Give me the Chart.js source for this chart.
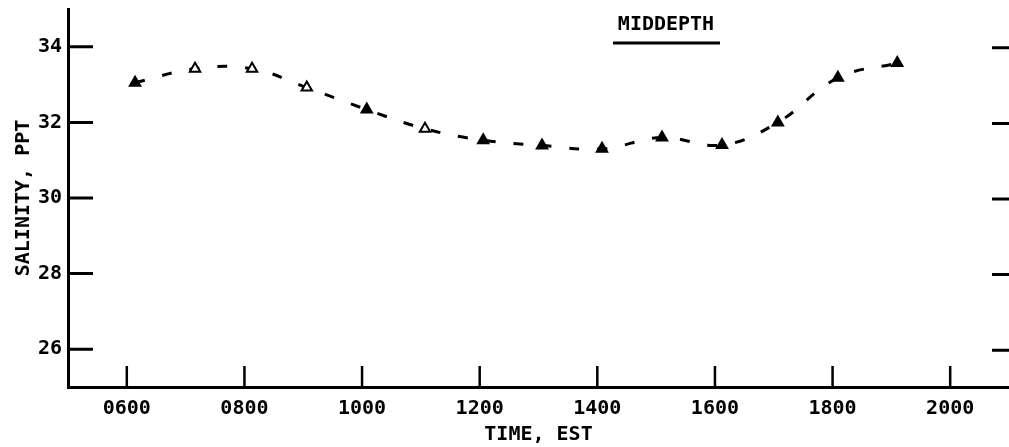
<!DOCTYPE html>
<html>
<head>
<meta charset="utf-8">
<script src="https://cdn.jsdelivr.net/npm/chart.js@4/dist/chart.umd.min.js"></script>
<style>
  html, body { margin: 0; padding: 0; background: #fff; }
</style>
</head>
<body>
<canvas id="chart" width="1009" height="447"></canvas>
<script>
// time of each sample, decimal hours EST
var sampleHours = [6.14, 7.16, 8.13, 9.06, 10.08, 11.07, 12.06, 13.06, 14.08, 15.10, 16.12, 17.07, 18.09, 19.10];
// salinity at middepth, ppt
var salinity = [33.05, 33.42, 33.42, 32.92, 32.34, 31.83, 31.53, 31.39, 31.30, 31.60, 31.40, 32.00, 33.18, 33.57];
// samples drawn with an open triangle
var openPoints = [1, 2, 3, 5];

var xTicks = [6, 8, 10, 12, 14, 16, 18, 20];
var yTicks = [26, 28, 30, 32, 34];

var FONT = '"DejaVu Sans Mono", monospace';

function hhmm(h) {
  var s = String(Math.round(h * 100));
  while (s.length < 4) s = "0" + s;
  return s;
}

var points = sampleHours.map(function(h, i) {
  return {x: h, y: salinity[i]};
});

// ticks point inward, plus the loose ticks on the right edge and the title
var plotterMarks = {
  id: "plotterMarks",
  afterDraw: function(chart) {
    var ctx = chart.ctx;
    var area = chart.chartArea;
    var sx = chart.scales.x, sy = chart.scales.y;
    ctx.save();
    ctx.strokeStyle = "#000";
    ctx.lineCap = "butt";

    ctx.lineWidth = 2.5;
    sx.ticks.forEach(function(t) {
      var px = sx.getPixelForValue(t.value);
      ctx.beginPath();
      ctx.moveTo(px, area.bottom);
      ctx.lineTo(px, area.bottom - 21);
      ctx.stroke();
    });

    ctx.lineWidth = 3;
    sy.ticks.forEach(function(t) {
      var py = sy.getPixelForValue(t.value);
      ctx.beginPath();
      ctx.moveTo(area.left, py);
      ctx.lineTo(area.left + 25, py);
      ctx.moveTo(area.right - 17, py + 1);
      ctx.lineTo(area.right, py + 1);
      ctx.stroke();
    });

    ctx.fillStyle = "#000";
    ctx.font = "bold 20px " + FONT;
    ctx.textAlign = "center";
    ctx.textBaseline = "middle";
    ctx.fillText("MIDDEPTH", 666, 25);
    ctx.beginPath();
    ctx.moveTo(613, 43);
    ctx.lineTo(720, 43);
    ctx.stroke();
    ctx.restore();
  }
};

new Chart(document.getElementById("chart"), {
  type: "line",
  data: {
    datasets: [{
      data: points,
      borderColor: "#000",
      borderWidth: 3,
      borderDash: [10, 18],
      tension: 0.4,
      fill: false,
      pointStyle: "triangle",
      pointRadius: 6,
      pointBorderWidth: 2,
      pointBorderColor: "#000",
      pointBackgroundColor: points.map(function(p, i) {
        return openPoints.indexOf(i) >= 0 ? "#fff" : "#000";
      })
    }]
  },
  options: {
    responsive: false,
    animation: false,
    layout: {autoPadding: false, padding: {top: 9, right: 0, left: 0, bottom: 0}},
    plugins: {
      legend: {display: false},
      tooltip: {enabled: false}
    },
    scales: {
      x: {
        type: "linear",
        min: 5,
        max: 21,
        afterBuildTicks: function(scale) {
          scale.ticks = xTicks.map(function(v) { return {value: v}; });
        },
        afterFit: function(scale) {
          scale.height = 60;
          scale.paddingLeft = 0;
          scale.paddingRight = 0;
        },
        grid: {display: false, drawTicks: false},
        border: {display: true, color: "#000", width: 3},
        ticks: {
          color: "#000",
          padding: 10,
          maxRotation: 0,
          font: {family: FONT, size: 20, weight: "bold"},
          callback: function(v) { return hhmm(v); }
        },
        title: {
          display: true,
          text: "TIME, EST",
          color: "#000",
          padding: {top: 0, bottom: 0},
          font: {family: FONT, size: 20, weight: "bold"}
        }
      },
      y: {
        min: 25,
        max: 35,
        afterBuildTicks: function(scale) {
          scale.ticks = yTicks.map(function(v) { return {value: v}; });
        },
        afterFit: function(scale) {
          scale.width = 68;
          scale.paddingTop = 0;
          scale.paddingBottom = 0;
        },
        grid: {display: false, drawTicks: false},
        border: {display: true, color: "#000", width: 3},
        ticks: {
          color: "#000",
          padding: 6,
          font: {family: FONT, size: 20, weight: "bold"}
        },
        title: {
          display: true,
          text: "SALINITY, PPT",
          color: "#000",
          padding: {top: 12, bottom: 0},
          font: {family: FONT, size: 20, weight: "bold"}
        }
      }
    }
  },
  plugins: [plotterMarks]
});
</script>
</body>
</html>
